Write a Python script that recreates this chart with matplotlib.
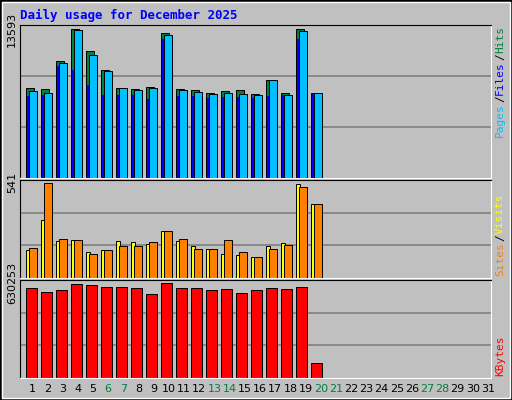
import matplotlib
matplotlib.use("Agg")
import matplotlib.pyplot as plt
from matplotlib.patches import Rectangle

days = list(range(1, 32))
hits = [8230, 8137, 10727, 13593, 11651, 9894, 8230, 8137, 8322, 13223, 8137, 8045, 7767, 7952, 8045, 7675, 8970, 7767, 13593, 7767]
pages = [7952, 7767, 10541, 13500, 11281, 9802, 8230, 8045, 8230, 13131, 8045, 7860, 7675, 7767, 7675, 7582, 8970, 7582, 13408, 7767]
files = [7490, 7582, 10264, 9894, 8507, 7582, 7582, 7582, 7212, 12761, 7490, 7490, 7305, 7397, 7397, 7305, 7490, 7582, 12761, 7675]
visits = [159, 329, 212, 218, 147, 159, 212, 206, 194, 270, 212, 182, 165, 135, 129, 118, 182, 200, 535, 418]
sites = [171, 541, 223, 218, 135, 159, 182, 182, 206, 265, 223, 165, 165, 218, 147, 118, 165, 188, 517, 418]
kbytes = [595627, 567923, 581775, 623328, 616402, 602550, 602550, 595627, 554070, 630253, 595627, 595627, 581775, 588700, 560997, 581775, 595627, 588700, 602550, 96962]
weekends = [6, 7, 13, 14, 20, 21, 27, 28]

W, H = 512, 400
fig = plt.figure(figsize=(W/100, H/100), dpi=100)
fig.patch.set_facecolor("#C0C0C0")
fig.add_artist(Rectangle((0, 0), 1, 1, transform=fig.transFigure, fill=False, ec="black", lw=2))
fig.add_artist(Rectangle((0.004, 0.004), 0.992, 0.992, transform=fig.transFigure, fill=False, ec="white", lw=1))

def ax_px(x0, y0, x1, y1):
    return fig.add_axes([x0/W, 1-y1/H, (x1-x0)/W, (y1-y0)/H])

panels = [ax_px(20, 25, 491, 178), ax_px(20, 180, 491, 278), ax_px(20, 280, 491, 378)]
maxes = [max(hits), max(sites + visits), max(kbytes)]
for ax, m in zip(panels, maxes):
    ax.set_facecolor("#C0C0C0")
    ax.set_xlim(0.2, 31.6)
    ax.set_ylim(0, m * 1.03)
    for f in (1/3, 2/3):
        ax.axhline(m * 1.03 * f, color="#808080", lw=1.2, zorder=0)
    ax.set_xticks([])
    ax.set_yticks([m])
    ax.set_yticklabels([str(m)], rotation=90, va="center", fontsize=8)
    ax.tick_params(axis="y", length=0, pad=2)
    for s in ax.spines.values():
        s.set_color("black")
    ax.spines["right"].set_color("white")
    ax.spines["bottom"].set_color("white")

n = len(hits)
x = days[:n]
a = panels[0]
a.bar([d - 0.4 for d in x], hits, width=0.5, align="edge", color="#008040", ec="black", lw=0.7, zorder=2)
a.bar([d - 0.2 for d in x], pages, width=0.5, align="edge", color="#00C0FF", ec="black", lw=0.7, zorder=3)
a.bar([d - 0.33 for d in x], files, width=0.12, align="edge", color="#0000FF", ec="none", zorder=4)
b = panels[1]
b.bar([d - 0.4 for d in x], visits, width=0.28, align="edge", color="#FFFF00", ec="black", lw=0.7, zorder=2)
b.bar([d - 0.2 for d in x], sites, width=0.5, align="edge", color="#FF8000", ec="black", lw=0.7, zorder=3)
c = panels[2]
c.bar([d - 0.4 for d in x], kbytes, width=0.7, align="edge", color="#FF0000", ec="black", lw=0.7, zorder=2)

for d in days:
    fig.text((32 + (d - 1) * 15.2) / W, 1 - 389/H, str(d), ha="center", va="center", fontsize=8,
             color="#008040" if d in weekends else "black")

fig.text(20/W, 1 - 15/H, "Daily usage for December 2025", color="#0000FF", fontsize=9,
         family="DejaVu Sans Mono", weight="bold", va="center")

def side_up(parts, y_bot_px):
    yy = 1 - y_bot_px/H
    for txt, col in parts:
        fig.text(500/W, yy, txt, color=col, rotation=90, ha="center", va="bottom", fontsize=8, family="DejaVu Sans Mono")
        yy += len(txt) * 7.0 / H

side_up([("Pages", "#00C0FF"), ("/", "black"), ("Files", "#0000FF"), ("/", "black"), ("Hits", "#008040")], 137)
side_up([("Sites", "#FF8000"), ("/", "black"), ("Visits", "#FFFF00")], 276)
side_up([("KBytes", "#FF0000")], 376)

fig.savefig("out.png", dpi=100, facecolor=fig.get_facecolor())
